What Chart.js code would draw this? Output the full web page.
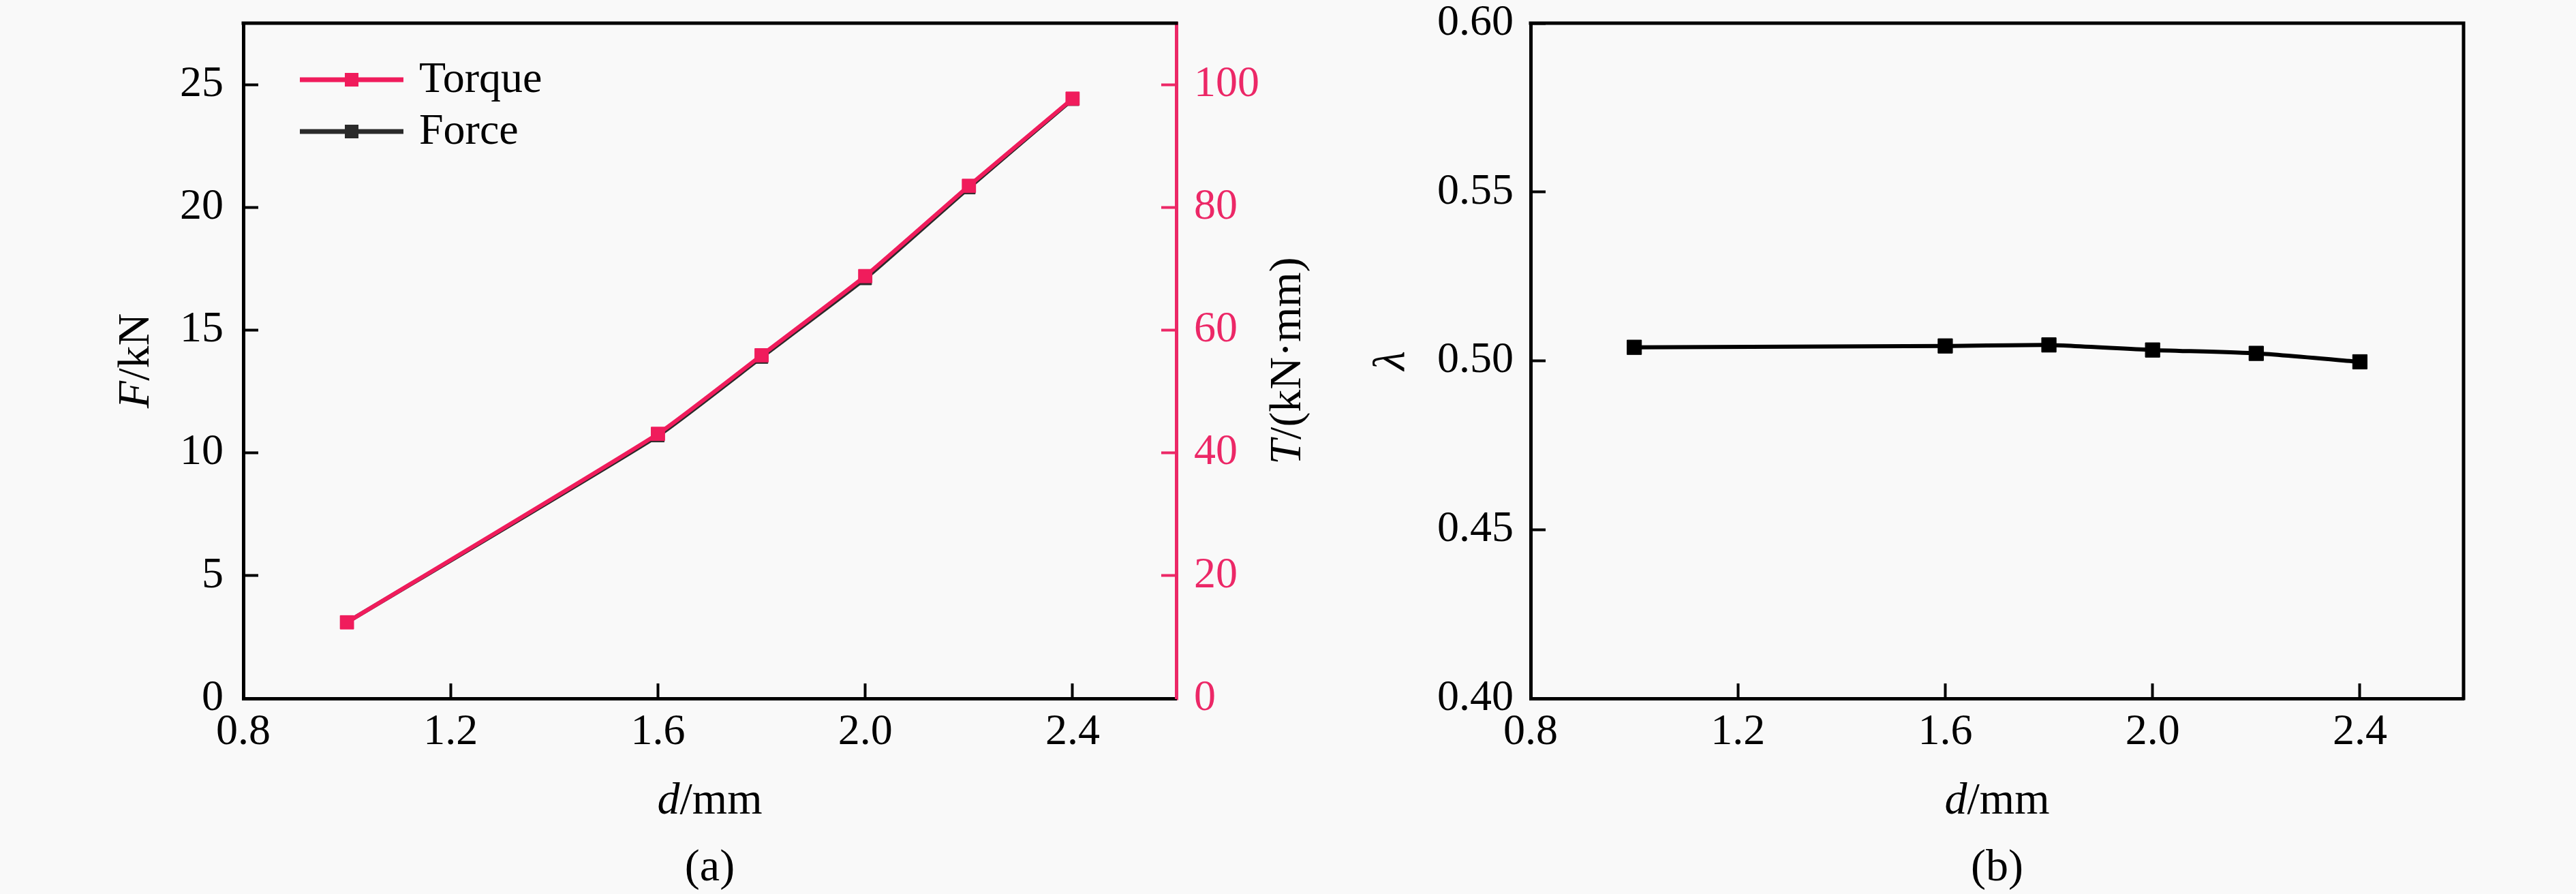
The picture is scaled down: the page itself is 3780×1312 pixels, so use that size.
<!DOCTYPE html>
<html>
<head>
<meta charset="utf-8">
<script src="https://cdn.jsdelivr.net/npm/chart.js@4.4.0/dist/chart.umd.min.js"></script>
<style>
  html, body { margin: 0; padding: 0; background: #f9f9f9; }
  #wrap { position: relative; width: 3780px; height: 1312px; }
  #chartA { position: absolute; left: 0; top: 0; }
  #chartB { position: absolute; left: 1960px; top: 0; }
</style>
</head>
<body>
<div id="wrap">
  <canvas id="chartA" width="1960" height="1312"></canvas>
  <canvas id="chartB" width="1820" height="1312"></canvas>
</div>
<script>
// d / mm
const diameters = [1.0, 1.6, 1.8, 2.0, 2.2, 2.4];
// F / kN
const forceValues = [3.1, 10.7, 13.9, 17.1, 20.8, 24.4];
// T / (kN·mm)
const torqueValues = [12.4, 43.1, 55.9, 68.8, 83.5, 97.7];
// lambda
const lambdaValues = [0.504, 0.5044, 0.5047, 0.5032, 0.5022, 0.4997];

const xTicks = [0.8, 1.2, 1.6, 2.0, 2.4];
const forceTicks = [0, 5, 10, 15, 20, 25];
const torqueTicks = [0, 20, 40, 60, 80, 100];
const lambdaTicks = [0.40, 0.45, 0.50, 0.55, 0.60];

const PINK = "#f01c5c";
const PINK_AXIS = "#ec2867";
const DARK = "#2a2a2a";
const SERIF = '"Liberation Serif", "Times New Roman", serif';

Chart.defaults.font.family = SERIF;
Chart.defaults.color = "#000";

function points(ys) {
    return diameters.map((d, i) => ({ x: d, y: ys[i] }));
}

function useTicks(list) {
    return scale => {
        scale.ticks = list.map(v => ({ value: v }));
    };
}

// fixed axis sizes so the plot areas land where the original ones are
function fixSize(size) {
    return scale => {
        if (scale.isHorizontal()) scale.height = size;
        else scale.width = size;
        scale.paddingTop = 0;
        scale.paddingBottom = 0;
        scale.paddingLeft = 0;
        scale.paddingRight = 0;
    };
}

function axis(opts) {
    return {
        type: "linear",
        position: opts.position,
        min: opts.min,
        max: opts.max,
        afterBuildTicks: useTicks(opts.ticks),
        afterFit: fixSize(opts.size),
        ticks: {
            padding: opts.padding,
            color: opts.color || "#000",
            font: { size: 64 },
            autoSkip: false,
            maxRotation: 0,
            callback: v => v.toFixed(opts.digits)
        },
        grid: {
            drawOnChartArea: false,
            drawTicks: true,
            tickLength: -22,
            tickWidth: 4,
            tickColor: opts.color || "#000"
        },
        border: { display: true, color: opts.color || "#000", width: 5 }
    };
}

const frame = {
    id: "frame",
    afterDraw(chart, args, opts) {
        const { ctx, chartArea: a } = chart;
        ctx.save();
        ctx.strokeStyle = "#000";
        ctx.lineWidth = 5;
        ctx.lineCap = "square";
        ctx.beginPath();
        ctx.moveTo(a.left, a.top);
        ctx.lineTo(a.right, a.top);
        if (opts.right) {
            ctx.moveTo(a.right, a.top);
            ctx.lineTo(a.right, a.bottom);
        }
        ctx.stroke();
        ctx.restore();
    }
};

const lineLegend = {
    id: "lineLegend",
    afterDatasetsDraw(chart, args, opts) {
        if (!opts.show) return;
        const { ctx, chartArea: a } = chart;
        chart.data.datasets.forEach((ds, i) => {
            const x = a.left + 83;
            const y = a.top + 83 + i * 76;
            ctx.save();
            ctx.strokeStyle = ds.borderColor;
            ctx.lineWidth = 7;
            ctx.beginPath();
            ctx.moveTo(x, y);
            ctx.lineTo(x + 152, y);
            ctx.stroke();
            ctx.fillStyle = ds.backgroundColor;
            ctx.fillRect(x + 76 - 10, y - 10, 20, 20);
            ctx.fillStyle = "#000";
            ctx.font = "64px " + SERIF;
            ctx.textBaseline = "alphabetic";
            ctx.fillText(ds.label, x + 175, y + 18);
            ctx.restore();
        });
    }
};

function drawParts(ctx, parts, size) {
    let total = 0;
    parts.forEach(p => {
        ctx.font = (p.italic ? "italic " : "") + size + "px " + SERIF;
        p.w = ctx.measureText(p.text).width;
        total += p.w;
    });
    let x = -total / 2;
    parts.forEach(p => {
        ctx.font = (p.italic ? "italic " : "") + size + "px " + SERIF;
        ctx.fillText(p.text, x, 0);
        x += p.w;
    });
}

const titles = {
    id: "titles",
    afterDraw(chart, args, opts) {
        const { ctx, chartArea: a } = chart;
        const cx = (a.left + a.right) / 2;
        const cy = (a.top + a.bottom) / 2;
        ctx.save();
        ctx.fillStyle = "#000";
        ctx.textBaseline = "alphabetic";
        ctx.textAlign = "left";

        ctx.save();
        ctx.translate(cx, a.bottom + 169);
        drawParts(ctx, [{ text: "d", italic: true }, { text: "/mm" }], 66);
        ctx.restore();

        ctx.save();
        ctx.translate(cx, a.bottom + 267);
        drawParts(ctx, [{ text: opts.caption }], 66);
        ctx.restore();

        ctx.save();
        ctx.translate(a.left + opts.leftOffset, cy);
        ctx.rotate(-Math.PI / 2);
        drawParts(ctx, opts.left, 66);
        ctx.restore();

        if (opts.right) {
            ctx.save();
            ctx.translate(a.right + 182, cy);
            ctx.rotate(-Math.PI / 2);
            drawParts(ctx, opts.right, 66);
            ctx.restore();
        }
        ctx.restore();
    }
};

new Chart(document.getElementById("chartA"), {
    type: "line",
    data: {
        datasets: [
            {
                label: "Torque",
                data: points(torqueValues),
                yAxisID: "yT",
                borderColor: PINK,
                backgroundColor: PINK,
                borderWidth: 6,
                pointStyle: "rect",
                pointRadius: 14,
                pointBorderWidth: 1,
                tension: 0.15
            },
            {
                label: "Force",
                data: points(forceValues),
                yAxisID: "yF",
                borderColor: DARK,
                backgroundColor: DARK,
                borderWidth: 6,
                pointStyle: "rect",
                pointRadius: 13,
                pointBorderWidth: 1,
                tension: 0.15
            }
        ]
    },
    options: {
        responsive: false,
        animation: false,
        layout: { padding: { left: 0, top: 34, right: 54, bottom: 187 } },
        plugins: {
            legend: { display: false },
            tooltip: { enabled: false },
            frame: { right: false },
            lineLegend: { show: true },
            titles: {
                caption: "(a)",
                leftOffset: -139,
                left: [{ text: "F", italic: true }, { text: "/kN" }],
                right: [{ text: "T", italic: true }, { text: "/(kN\u00b7mm)" }]
            }
        },
        scales: {
            x: axis({ position: "bottom", min: 0.8, max: 2.6, ticks: xTicks, size: 100, padding: 34, digits: 1 }),
            yF: axis({ position: "left", min: 0, max: 27.5, ticks: forceTicks, size: 357, padding: 51, digits: 0 }),
            yT: axis({ position: "right", min: 0, max: 110, ticks: torqueTicks, size: 180, padding: 48, digits: 0, color: PINK_AXIS })
        }
    },
    plugins: [frame, lineLegend, titles]
});

new Chart(document.getElementById("chartB"), {
    type: "line",
    data: {
        datasets: [
            {
                label: "\u03bb",
                data: points(lambdaValues),
                borderColor: "#000",
                backgroundColor: "#000",
                borderWidth: 6,
                pointStyle: "rect",
                pointRadius: 15,
                pointBorderWidth: 1,
                tension: 0.15
            }
        ]
    },
    options: {
        responsive: false,
        animation: false,
        layout: { padding: { left: 0, top: 34, right: 165, bottom: 187 } },
        plugins: {
            legend: { display: false },
            tooltip: { enabled: false },
            frame: { right: true },
            lineLegend: { show: false },
            titles: {
                caption: "(b)",
                leftOffset: -186,
                left: [{ text: "\u03bb", italic: true }]
            }
        },
        scales: {
            x: axis({ position: "bottom", min: 0.8, max: 2.6, ticks: xTicks, size: 100, padding: 34, digits: 1 }),
            y: axis({ position: "left", min: 0.40, max: 0.60, ticks: lambdaTicks, size: 286, padding: 47, digits: 2 })
        }
    },
    plugins: [frame, lineLegend, titles]
});
</script>
</body>
</html>
